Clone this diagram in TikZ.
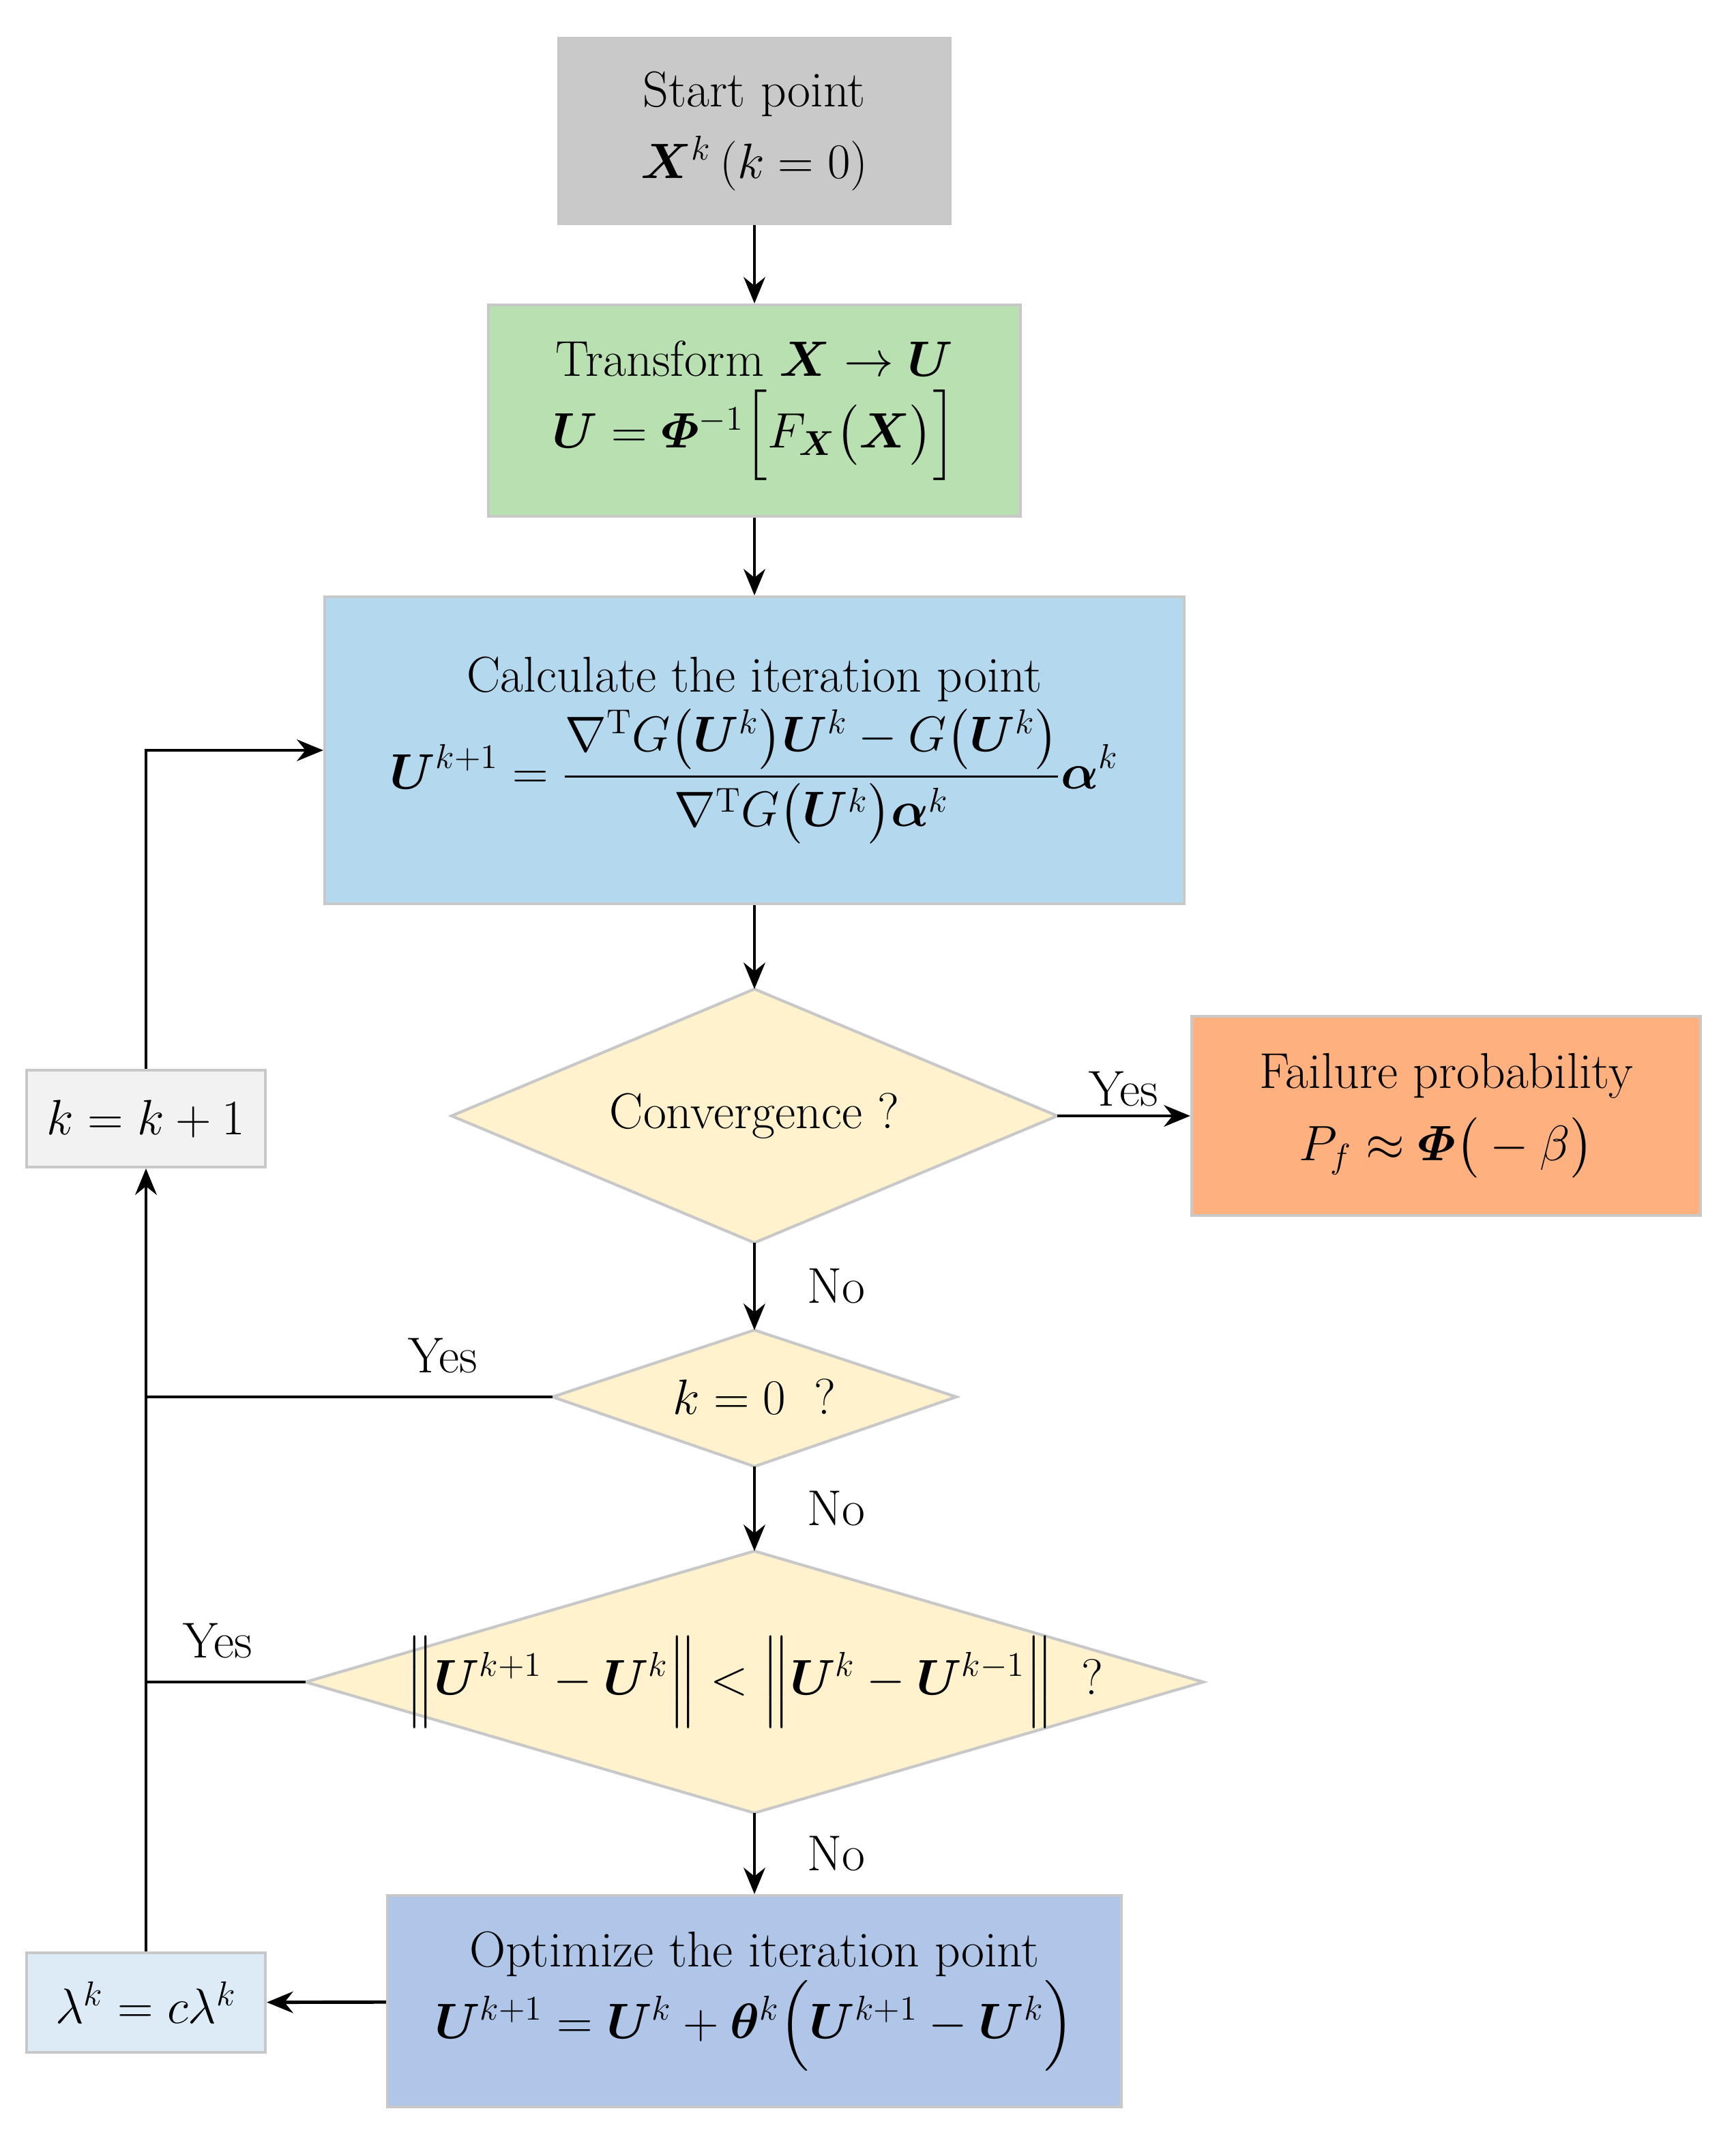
\documentclass[tikz,border=0pt]{standalone}
\usepackage{amsmath,amssymb,bm}
\usetikzlibrary{shapes.geometric,arrows.meta}
\definecolor{cgray}{HTML}{C9C9C9}
\definecolor{cgreen}{HTML}{B9E0B0}
\definecolor{cblue}{HTML}{B4D8EE}
\definecolor{cyel}{HTML}{FFF2CC}
\definecolor{corg}{HTML}{FFB07F}
\definecolor{clg}{HTML}{F2F2F2}
\definecolor{copt}{HTML}{AFC6E8}
\definecolor{clam}{HTML}{DDEBF7}
\definecolor{cbd}{HTML}{C8C8C8}
\begin{document}
\begin{tikzpicture}[x=0.02cm,y=-0.02cm,
 every node/.style={font=\fontsize{21}{30}\selectfont},
 box/.style={draw=cbd,line width=1.2pt,align=center,inner sep=0pt},
 dshape/.style={draw=cbd,line width=1.2pt,fill=cyel},
 arr/.style={-{Stealth[length=11pt,width=9pt]},line width=1.4pt},
 ln/.style={line width=1.4pt},
 lab/.style={font=\fontsize{21}{25}\selectfont}]
\useasboundingbox (0,0) rectangle (1272,1568);
\node[box,fill=cgray,minimum width=287*0.02cm,minimum height=136*0.02cm] (s) at (553,96) {Start point\\ $\bm{X}^k\left(k=0\right)$};
\node[box,fill=cgreen,minimum width=390*0.02cm,minimum height=155*0.02cm] (t) at (553,301) {Transform $\bm{X}\rightarrow\bm{U}$\\ $\bm{U}=\bm{\varPhi}^{-1}\Big[F_{\bm{X}}\big(\bm{X}\big)\Big]$};
\node[box,fill=cblue,minimum width=630*0.02cm,minimum height=225*0.02cm] (c) at (553,550) {Calculate the iteration point\\[2pt] $\displaystyle\bm{U}^{k+1}=\frac{\nabla^{\mathrm{T}}G\big(\bm{U}^k\big)\bm{U}^k-G\big(\bm{U}^k\big)}{\nabla^{\mathrm{T}}G\big(\bm{U}^k\big)\bm{\alpha}^k}\bm{\alpha}^k$};
\path[dshape] (331,818) -- (553,725) -- (775,818) -- (553,911) -- cycle;
\node (cvt) at (553,818) {Convergence ?};
\coordinate (cvL) at (331,818); \coordinate (cvR) at (775,818); \coordinate (cvT) at (553,725); \coordinate (cvB) at (553,911);
\node[box,fill=corg,minimum width=373*0.02cm,minimum height=146*0.02cm] (f) at (1060,818) {Failure probability\\ $P_f\approx\bm{\varPhi}\big(-\beta\big)$};
\path[dshape] (405,1024) -- (553,975) -- (701,1024) -- (553,1075) -- cycle;
\node (k0) at (553,1024) {$k=0$\;\;?};
\coordinate (k0L) at (405,1024); \coordinate (k0T) at (553,975); \coordinate (k0B) at (553,1075);
\path[dshape] (224,1233) -- (553,1137) -- (882,1233) -- (553,1329) -- cycle;
\node (nm) at (553,1233) {$\Big\|\bm{U}^{k+1}-\bm{U}^k\Big\|<\Big\|\bm{U}^k-\bm{U}^{k-1}\Big\|$\;\;?};
\coordinate (nmL) at (224,1233); \coordinate (nmT) at (553,1137); \coordinate (nmB) at (553,1329);
\node[box,fill=copt,minimum width=538*0.02cm,minimum height=155*0.02cm] (o) at (553,1467) {Optimize the iteration point\\ $\bm{U}^{k+1}=\bm{U}^k+\bm{\theta}^k\Big(\bm{U}^{k+1}-\bm{U}^k\Big)$};
\node[box,fill=clg,minimum width=175*0.02cm,minimum height=71*0.02cm] (kk) at (107,820) {$k=k+1$};
\node[box,fill=clam,minimum width=175*0.02cm,minimum height=73*0.02cm] (lm) at (107,1468) {$\lambda^k=c\lambda^k$};
\draw[arr] (s) -- (t);
\draw[arr] (t) -- (c);
\draw[arr] (c) -- (cvT);
\draw[arr] (cvR) -- node[above,lab]{Yes} (f);
\draw[arr] (cvB) -- node[right=18pt,lab]{No} (k0T);
\draw[arr] (k0B) -- node[right=18pt,lab]{No} (nmT);
\draw[arr] (nmB) -- node[right=18pt,lab]{No} (o);
\draw[arr] (o) -- (lm);
\draw[arr] (lm) -- (kk);
\draw[arr] (kk.north) |- (c.west);
\coordinate (j1) at (107,1024); \coordinate (j2) at (107,1233);
\draw[ln] (k0L) -- node[above=6pt,pos=0.27,lab]{Yes} (j1);
\draw[ln] (nmL) -- node[above=6pt,pos=0.55,lab]{Yes} (j2);
\end{tikzpicture}
\end{document}
